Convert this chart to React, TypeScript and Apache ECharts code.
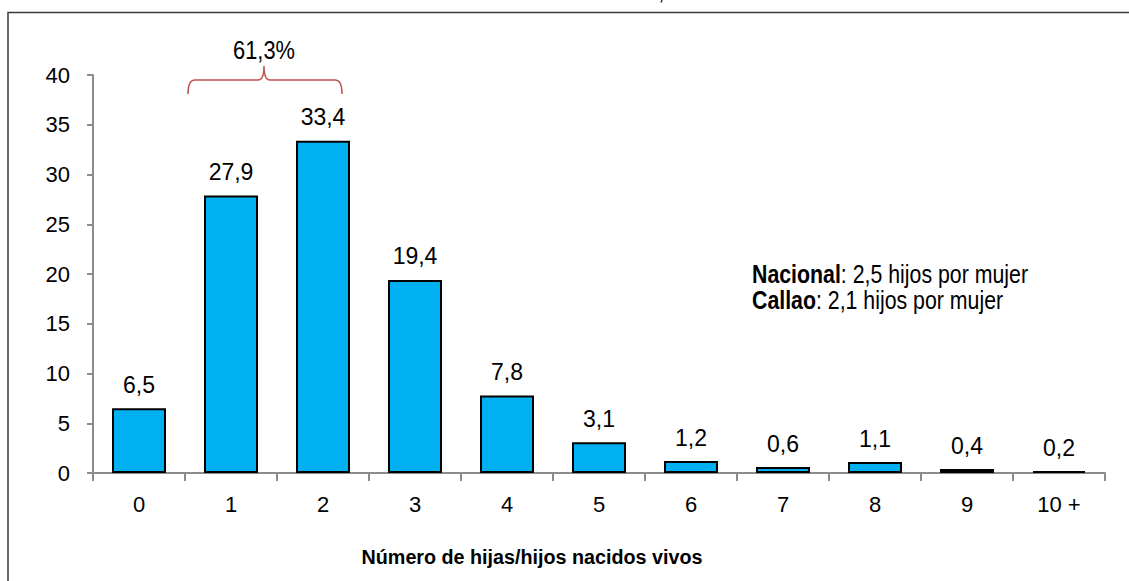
import React, { useEffect, useRef } from "react";
import * as echarts from "echarts";

const categories = ["0", "1", "2", "3", "4", "5", "6", "7", "8", "9", "10 +"];
const values = [6.5, 27.9, 33.4, 19.4, 7.8, 3.1, 1.2, 0.6, 1.1, 0.4, 0.2];
const yTicks = { min: 0, max: 40, interval: 5 };
const axisTitle = "Número de hijas/hijos nacidos vivos";
const noteLines = [
  { bold: "Nacional", rest: ": 2,5 hijos por mujer" },
  { bold: "Callao", rest: ": 2,1 hijos por mujer" },
];
const bracketIdx = [1, 2];

const FONT = "'Liberation Sans', Arial, sans-serif";

const fmt = (v: number) => v.toFixed(1).replace(".", ",");

const bracketPath =
  "M188,94 Q188,80 195,80 L258,80 Q264,80 264,66 Q264,80 270,80 L335,80 Q342,80 342,94";

export default function App() {
  const ref = useRef<HTMLDivElement>(null);
  useEffect(() => {
    if (!ref.current) return;
    try {
      echarts.graphic.registerShape("brace", echarts.graphic.extendPath(bracketPath, {}));
    } catch (e) {}
    const chart = echarts.init(ref.current, undefined, { renderer: "svg" });
    const sumPct = fmt(bracketIdx.reduce((s, i) => s + values[i], 0)) + "%";
    chart.setOption({
      animation: false,
      backgroundColor: "#ffffff",
      grid: { left: 93, right: 24, top: 75, bottom: 108 },
      xAxis: {
        type: "category",
        data: categories,
        boundaryGap: true,
        axisLine: { lineStyle: { color: "#8c8c8c", width: 2 } },
        axisTick: { show: true, length: 8, lineStyle: { color: "#8c8c8c", width: 2 } },
        axisLabel: { color: "#000", fontSize: 22, fontFamily: FONT, margin: 20 },
      },
      yAxis: {
        type: "value",
        min: yTicks.min,
        max: yTicks.max,
        interval: yTicks.interval,
        splitLine: { show: false },
        axisLine: { show: true, lineStyle: { color: "#8c8c8c", width: 2 } },
        axisTick: { show: true, length: 6, lineStyle: { color: "#8c8c8c", width: 2 } },
        axisLabel: { color: "#000", fontSize: 22, fontFamily: FONT, margin: 23 },
      },
      series: [
        {
          type: "bar",
          data: values,
          barWidth: 54,
          itemStyle: { color: "#00B0F0", borderColor: "#000", borderWidth: 2 },
          label: {
            show: true,
            position: "top",
            distance: 12,
            color: "#000",
            fontSize: 23,
            fontFamily: FONT,
            formatter: (p: any) => fmt(p.value),
          },
        },
      ],
      graphic: [
        {
          type: "rect",
          silent: true,
          shape: { x: 8, y: 12.5, width: 1400, height: 800 },
          style: { fill: "none", stroke: "#3a3a3a", lineWidth: 1.5 },
          z: 100,
        },
        {
          type: "line",
          silent: true,
          shape: { x1: 662, y1: 0, x2: 661, y2: 2.5 },
          style: { stroke: "#333", lineWidth: 1.5 },
        },
        {
          type: "brace",
          x: 0,
          y: 0,
          style: { fill: "none", stroke: "#C0504D", lineWidth: 1.5 },
        },
        {
          type: "text",
          x: 264,
          y: 50,
          scaleX: 0.84,
          style: {
            text: sumPct,
            fill: "#000",
            font: `26px ${FONT}`,
            textAlign: "center",
            textVerticalAlign: "middle",
          },
        },
        {
          type: "text",
          x: 752,
          y: 287,
          scaleX: 0.82,
          style: {
            text: noteLines.map((l) => `{b|${l.bold}}{r|${l.rest}}`).join("\n"),
            textVerticalAlign: "middle",
            lineHeight: 26,
            rich: {
              b: { fontWeight: "bold", fontSize: 26, fontFamily: FONT, fill: "#000", lineHeight: 26 },
              r: { fontSize: 26, fontFamily: FONT, fill: "#000", lineHeight: 26 },
            },
          },
        },
        {
          type: "text",
          x: 532,
          y: 557,
          scaleX: 0.94,
          style: {
            text: axisTitle,
            fill: "#000",
            font: `bold 21px ${FONT}`,
            textAlign: "center",
            textVerticalAlign: "middle",
          },
        },
      ],
    });
    return () => chart.dispose();
  }, []);
  return <div ref={ref} style={{ width: 1129, height: 581, position: "absolute", left: 0, top: 0 }} />;
}
